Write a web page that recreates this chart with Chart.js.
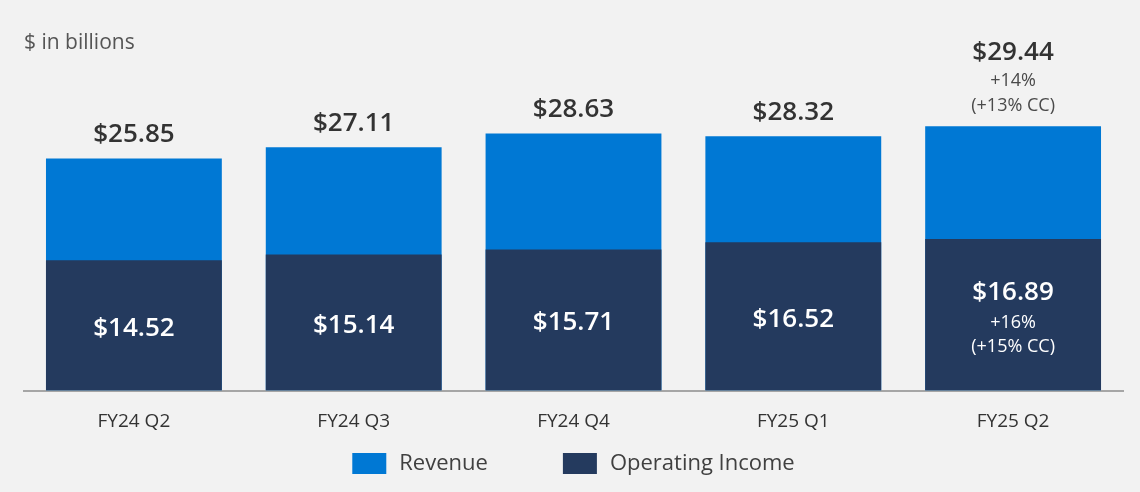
<!DOCTYPE html>
<html>
<head>
<meta charset="utf-8">
<script src="https://cdn.jsdelivr.net/npm/chart.js@4.4.1/dist/chart.umd.min.js"></script>
<style>
  html, body { margin: 0; padding: 0; background: #f2f2f2; }
  #wrap { width: 1140px; height: 492px; }
</style>
</head>
<body>
<div id="wrap"><canvas id="c" width="1140" height="492"></canvas></div>
<script>
const categories = ['FY24 Q2', 'FY24 Q3', 'FY24 Q4', 'FY25 Q1', 'FY25 Q2'];
const revenue = [25.85, 27.11, 28.63, 28.32, 29.44];
const operatingIncome = [14.52, 15.14, 15.71, 16.52, 16.89];
const revenueNotes = [[], [], [], [], ['+14%', '(+13% CC)']];
const incomeNotes = [[], [], [], [], ['+16%', '(+15% CC)']];
const seriesNames = ['Revenue', 'Operating Income'];
const seriesColors = ['#0078d4', '#243a5e'];
const unitLabel = '$ in billions';

const FONT = "'Open Sans', 'Noto Sans', sans-serif";

const valueLabels = {
  id: 'valueLabels',
  afterDatasetsDraw(chart) {
    const ctx = chart.ctx;
    const revMeta = chart.getDatasetMeta(0);
    const incMeta = chart.getDatasetMeta(1);
    ctx.save();
    ctx.textAlign = 'center';
    ctx.textBaseline = 'middle';
    revMeta.data.forEach((bar, i) => {
      const notes = revenueNotes[i];
      const top = bar.y;
      ctx.fillStyle = '#333333';
      ctx.font = `600 26px ${FONT}`;
      if (notes.length === 0) {
        ctx.fillText('$' + revenue[i].toFixed(2), bar.x, top - 24);
      } else {
        ctx.fillText('$' + revenue[i].toFixed(2), bar.x, top - 74);
        ctx.font = `400 18px ${FONT}`;
        ctx.fillStyle = '#4a4a4a';
        ctx.fillText(notes[0], bar.x, top - 45);
        ctx.fillText(notes[1], bar.x, top - 20);
      }
    });
    incMeta.data.forEach((bar, i) => {
      const notes = incomeNotes[i];
      const mid = (bar.y + bar.base) / 2;
      ctx.fillStyle = '#ffffff';
      ctx.font = `600 26px ${FONT}`;
      if (notes.length === 0) {
        ctx.fillText('$' + operatingIncome[i].toFixed(2), bar.x, mid + 3);
      } else {
        ctx.fillText('$' + operatingIncome[i].toFixed(2), bar.x, mid - 22);
        ctx.font = `400 18px ${FONT}`;
        ctx.fillText(notes[0], bar.x, mid + 8);
        ctx.fillText(notes[1], bar.x, mid + 32);
      }
    });
    ctx.restore();
  }
};

const bottomLegend = {
  id: 'bottomLegend',
  afterDraw(chart) {
    const ctx = chart.ctx;
    const area = chart.chartArea;
    const boxW = 34, boxH = 21, gap = 13, itemGap = 75;
    const cy = 463.5;
    ctx.save();
    ctx.font = `400 22px ${FONT}`;
    const items = chart.data.datasets.map(ds => ({
      text: ds.label, color: ds.backgroundColor, w: ctx.measureText(ds.label).width
    }));
    const total = items.reduce((s, it) => s + boxW + gap + it.w, 0) + itemGap * (items.length - 1);
    let x = (area.left + area.right) / 2 - total / 2;
    ctx.textAlign = 'left';
    ctx.textBaseline = 'middle';
    items.forEach(it => {
      ctx.fillStyle = it.color;
      ctx.fillRect(x, cy - boxH / 2, boxW, boxH);
      ctx.fillStyle = '#404040';
      ctx.fillText(it.text, x + boxW + gap, cy);
      x += boxW + gap + it.w + itemGap;
    });
    ctx.restore();
  }
};

new Chart(document.getElementById('c'), {
  type: 'bar',
  data: {
    labels: categories,
    datasets: [
      {
        label: seriesNames[0],
        data: revenue,
        backgroundColor: seriesColors[0],
        order: 1,
        categoryPercentage: 0.8,
        barPercentage: 1.0
      },
      {
        label: seriesNames[1],
        data: operatingIncome,
        backgroundColor: seriesColors[1],
        order: 0,
        categoryPercentage: 0.8,
        barPercentage: 1.0
      }
    ]
  },
  options: {
    responsive: false,
    devicePixelRatio: 1,
    animation: false,
    layout: { padding: { top: 0, left: 24, right: 17, bottom: 61.5 } },
    scales: {
      x: {
        stacked: true,
        grid: { display: false, drawTicks: false },
        border: { display: true, color: '#a6a6a6', width: 2 },
        ticks: { color: '#333333', font: { family: FONT, size: 19 }, padding: 20 },
        afterFit(scale) { scale.height = 40; }
      },
      y: {
        stacked: false,
        display: false,
        min: 0,
        max: 30
      }
    },
    plugins: {
      tooltip: { enabled: false },
      legend: { display: false },
      title: {
        display: true,
        text: unitLabel,
        align: 'start',
        color: '#555555',
        font: { family: FONT, size: 21, weight: '400', lineHeight: 1.2 },
        padding: { top: 30, bottom: 66 }
      }
    }
  },
  plugins: [valueLabels, bottomLegend]
});
</script>
</body>
</html>
